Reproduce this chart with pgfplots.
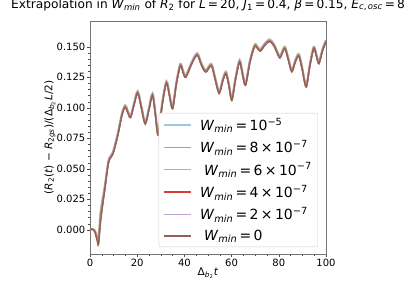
\documentclass[border=0pt]{standalone}
\usepackage{fontspec}
\setmainfont{DejaVu Sans}
\usepackage{pgfplots}
\usepackage{pgfplotstable}
\pgfplotsset{compat=1.18}
\definecolor{c1}{RGB}{160,198,225}
\definecolor{c2}{RGB}{255,140,40}
\definecolor{c3}{RGB}{140,205,140}
\definecolor{c4}{RGB}{214,60,60}
\definecolor{c5}{RGB}{190,165,220}
\definecolor{c6}{RGB}{150,95,82}
\pgfplotstableread{
t a b c d e f
0 0 0 0 0 0 0
1 0.0005 0.0005 0.0005 0.0005 0.0005 0.0005
2 -0.0005 -0.0007 -0.0009 -0.0010 -0.0013 -0.0015
3 -0.0055 -0.0062 -0.0066 -0.0072 -0.0080 -0.0085
3.6 -0.0080 -0.0090 -0.0095 -0.0105 -0.0115 -0.0120
4.5 0.0150 0.0130 0.0120 0.0100 0.0080 0.0070
6.2 0.0350 0.0342 0.0336 0.0330 0.0322 0.0318
7.9 0.0570 0.0566 0.0563 0.0560 0.0556 0.0554
9.7 0.0635 0.0631 0.0628 0.0625 0.0621 0.0619
11.8 0.0790 0.0786 0.0783 0.0780 0.0776 0.0774
13.5 0.0950 0.0946 0.0943 0.0940 0.0936 0.0934
14.9 0.1020 0.1016 0.1013 0.1010 0.1006 0.1004
16.1 0.0970 0.0966 0.0963 0.0960 0.0956 0.0954
17.2 0.0934 0.0930 0.0927 0.0924 0.0920 0.0918
18.7 0.1040 0.1036 0.1033 0.1030 0.1026 0.1024
20.2 0.1136 0.1132 0.1129 0.1126 0.1122 0.1120
21.8 0.1010 0.1006 0.1003 0.1000 0.0996 0.0994
23.4 0.0882 0.0878 0.0875 0.0872 0.0868 0.0866
25.0 0.1000 0.0996 0.0993 0.0990 0.0986 0.0984
26.5 0.1117 0.1113 0.1110 0.1107 0.1103 0.1101
27.7 0.0960 0.0956 0.0953 0.0950 0.0946 0.0944
28.9 0.0790 0.0786 0.0783 0.0780 0.0776 0.0774
30.6 0.1040 0.1036 0.1033 0.1030 0.1026 0.1024
32.4 0.1217 0.1213 0.1210 0.1207 0.1203 0.1201
33.7 0.1110 0.1106 0.1103 0.1100 0.1096 0.1094
35.0 0.1007 0.1003 0.1000 0.0997 0.0993 0.0991
36.6 0.1210 0.1206 0.1203 0.1200 0.1196 0.1194
38.3 0.1360 0.1356 0.1353 0.1350 0.1346 0.1344
39.5 0.1300 0.1296 0.1293 0.1290 0.1286 0.1284
40.6 0.1265 0.1261 0.1258 0.1255 0.1251 0.1249
43.0 0.1370 0.1366 0.1363 0.1360 0.1356 0.1354
45.4 0.1447 0.1443 0.1440 0.1437 0.1433 0.1431
47.3 0.1360 0.1356 0.1353 0.1350 0.1346 0.1344
49.1 0.1308 0.1304 0.1301 0.1298 0.1294 0.1292
51.4 0.1360 0.1356 0.1353 0.1350 0.1346 0.1344
53.0 0.1250 0.1246 0.1243 0.1240 0.1236 0.1234
54.7 0.1132 0.1128 0.1125 0.1122 0.1118 0.1116
56.2 0.1230 0.1226 0.1223 0.1220 0.1216 0.1214
57.6 0.1295 0.1291 0.1288 0.1285 0.1281 0.1279
58.9 0.1190 0.1186 0.1183 0.1180 0.1176 0.1174
60.1 0.1076 0.1072 0.1069 0.1066 0.1062 0.1060
61.7 0.1250 0.1246 0.1243 0.1240 0.1236 0.1234
63.4 0.1390 0.1386 0.1383 0.1380 0.1376 0.1374
64.6 0.1290 0.1286 0.1283 0.1280 0.1276 0.1274
65.9 0.1200 0.1196 0.1193 0.1190 0.1186 0.1184
67.8 0.1390 0.1386 0.1383 0.1380 0.1376 0.1374
69.8 0.1518 0.1514 0.1511 0.1508 0.1504 0.1502
71.0 0.1500 0.1496 0.1493 0.1490 0.1486 0.1484
72.2 0.1480 0.1476 0.1473 0.1470 0.1466 0.1464
74.2 0.1530 0.1526 0.1523 0.1520 0.1516 0.1514
76.1 0.1560 0.1556 0.1553 0.1550 0.1546 0.1544
78.0 0.1520 0.1516 0.1513 0.1510 0.1506 0.1504
80.3 0.1425 0.1421 0.1418 0.1415 0.1411 0.1409
81.4 0.1460 0.1456 0.1453 0.1450 0.1446 0.1444
82.6 0.1500 0.1496 0.1493 0.1490 0.1486 0.1484
84.0 0.1410 0.1406 0.1403 0.1400 0.1396 0.1394
85.5 0.1310 0.1306 0.1303 0.1300 0.1296 0.1294
87.0 0.1390 0.1386 0.1383 0.1380 0.1376 0.1374
88.5 0.1440 0.1436 0.1433 0.1430 0.1426 0.1424
90.0 0.1320 0.1316 0.1313 0.1310 0.1306 0.1304
91.6 0.1185 0.1181 0.1178 0.1175 0.1171 0.1169
93.1 0.1350 0.1346 0.1343 0.1340 0.1336 0.1334
94.8 0.1500 0.1496 0.1493 0.1490 0.1486 0.1484
95.9 0.1440 0.1436 0.1433 0.1430 0.1426 0.1424
97.0 0.1376 0.1372 0.1369 0.1366 0.1362 0.1360
98.5 0.1480 0.1476 0.1473 0.1470 0.1466 0.1464
100.0 0.1555 0.1551 0.1548 0.1545 0.1541 0.1539
}\datatab
\newcommand{\Wm}{\textit{W}\textsubscript{\textit{min}}}
\begin{document}
\begin{tikzpicture}
\useasboundingbox (0,0) rectangle (416pt,282pt);
\begin{axis}[
  at={(90pt,28pt)}, anchor=south west,
  scale only axis, width=236pt, height=233pt,
  xmin=0, xmax=100, ymin=-0.0199, ymax=0.1711,
  xtick={0,20,...,100},
  ytick={0,0.025,0.05,0.075,0.1,0.125,0.15},
  yticklabels={0.000,0.025,0.050,0.075,0.100,0.125,0.150},
  minor x tick num=3, minor y tick num=4,
  tick align=outside, tick pos=left,
  major tick length=3pt, minor tick length=1.8pt,
  axis line style={black!55}, tick style={black!70},
  /pgf/number format/assume math mode=true,
  ticklabel style={font=\fontsize{10}{12}\selectfont},
  yticklabel style={inner xsep=1.5pt},
  xticklabel style={inner ysep=2pt},
  title={Extrapolation in \Wm{} of \textit{R}\textsubscript{2} for \textit{L}\,=\,20, \textit{J}\textsubscript{1}\,=\,0.4, \textit{β}\,=\,0.15, \textit{E}\textsubscript{\textit{c},\,\textit{osc}}\,=\,8},
  title style={at={(0.5,1.03)}, anchor=base, font=\fontsize{12.2}{14}\selectfont},
  xlabel={Δ\textsubscript{\textit{b}\textsubscript{2}}\textit{t}},
  xlabel style={at={(0.5,-0.0815)}, anchor=center, font=\fontsize{10.5}{12}\selectfont},
  ylabel={(\textit{R}\textsubscript{2}(\textit{t}) − \textit{R}\textsubscript{2\textit{gs}})/(Δ\textsubscript{\textit{b}\textsubscript{2}}\textit{L}/2)},
  ylabel style={at={(-0.17,0.5)}, anchor=center, font=\fontsize{10.5}{12}\selectfont},
  legend style={at={(0.966,0.03)}, anchor=south east, font=\fontsize{14}{16}\selectfont,
    draw=black!20, rounded corners=2pt, fill=white,
    inner xsep=4pt, inner ysep=3pt, row sep=4.5pt, column sep=6pt},
  legend cell align=left,
  legend image code/.code={\draw[#1] (0pt,0pt) -- (27pt,0pt);},
  every axis plot/.append style={smooth, tension=0.5},
]
\addplot[c1, line width=2.2pt] table[x=t,y=a]{\datatab};
\addlegendentry{\Wm\,=\,10\textsuperscript{−5}}
\addplot[c2, line width=1.5pt] table[x=t,y=b]{\datatab};
\addlegendentry{\Wm\,=\,8\,×\,10\textsuperscript{−7}}
\addplot[c3, line width=1.5pt] table[x=t,y=c]{\datatab};
\addlegendentry{\hspace{4pt}\Wm\,=\,6\,×\,10\textsuperscript{−7}}
\addplot[c4, line width=1.3pt] table[x=t,y=d]{\datatab};
\addlegendentry{\Wm\,=\,4\,×\,10\textsuperscript{−7}}
\addplot[c5, line width=1.4pt] table[x=t,y=e]{\datatab};
\addlegendentry{\Wm\,=\,2\,×\,10\textsuperscript{−7}}
\addplot[c6, line width=1.4pt] table[x=t,y=f]{\datatab};
\addlegendentry{\hspace{4pt}\Wm\,=\,0}
\end{axis}
\end{tikzpicture}
\end{document}
